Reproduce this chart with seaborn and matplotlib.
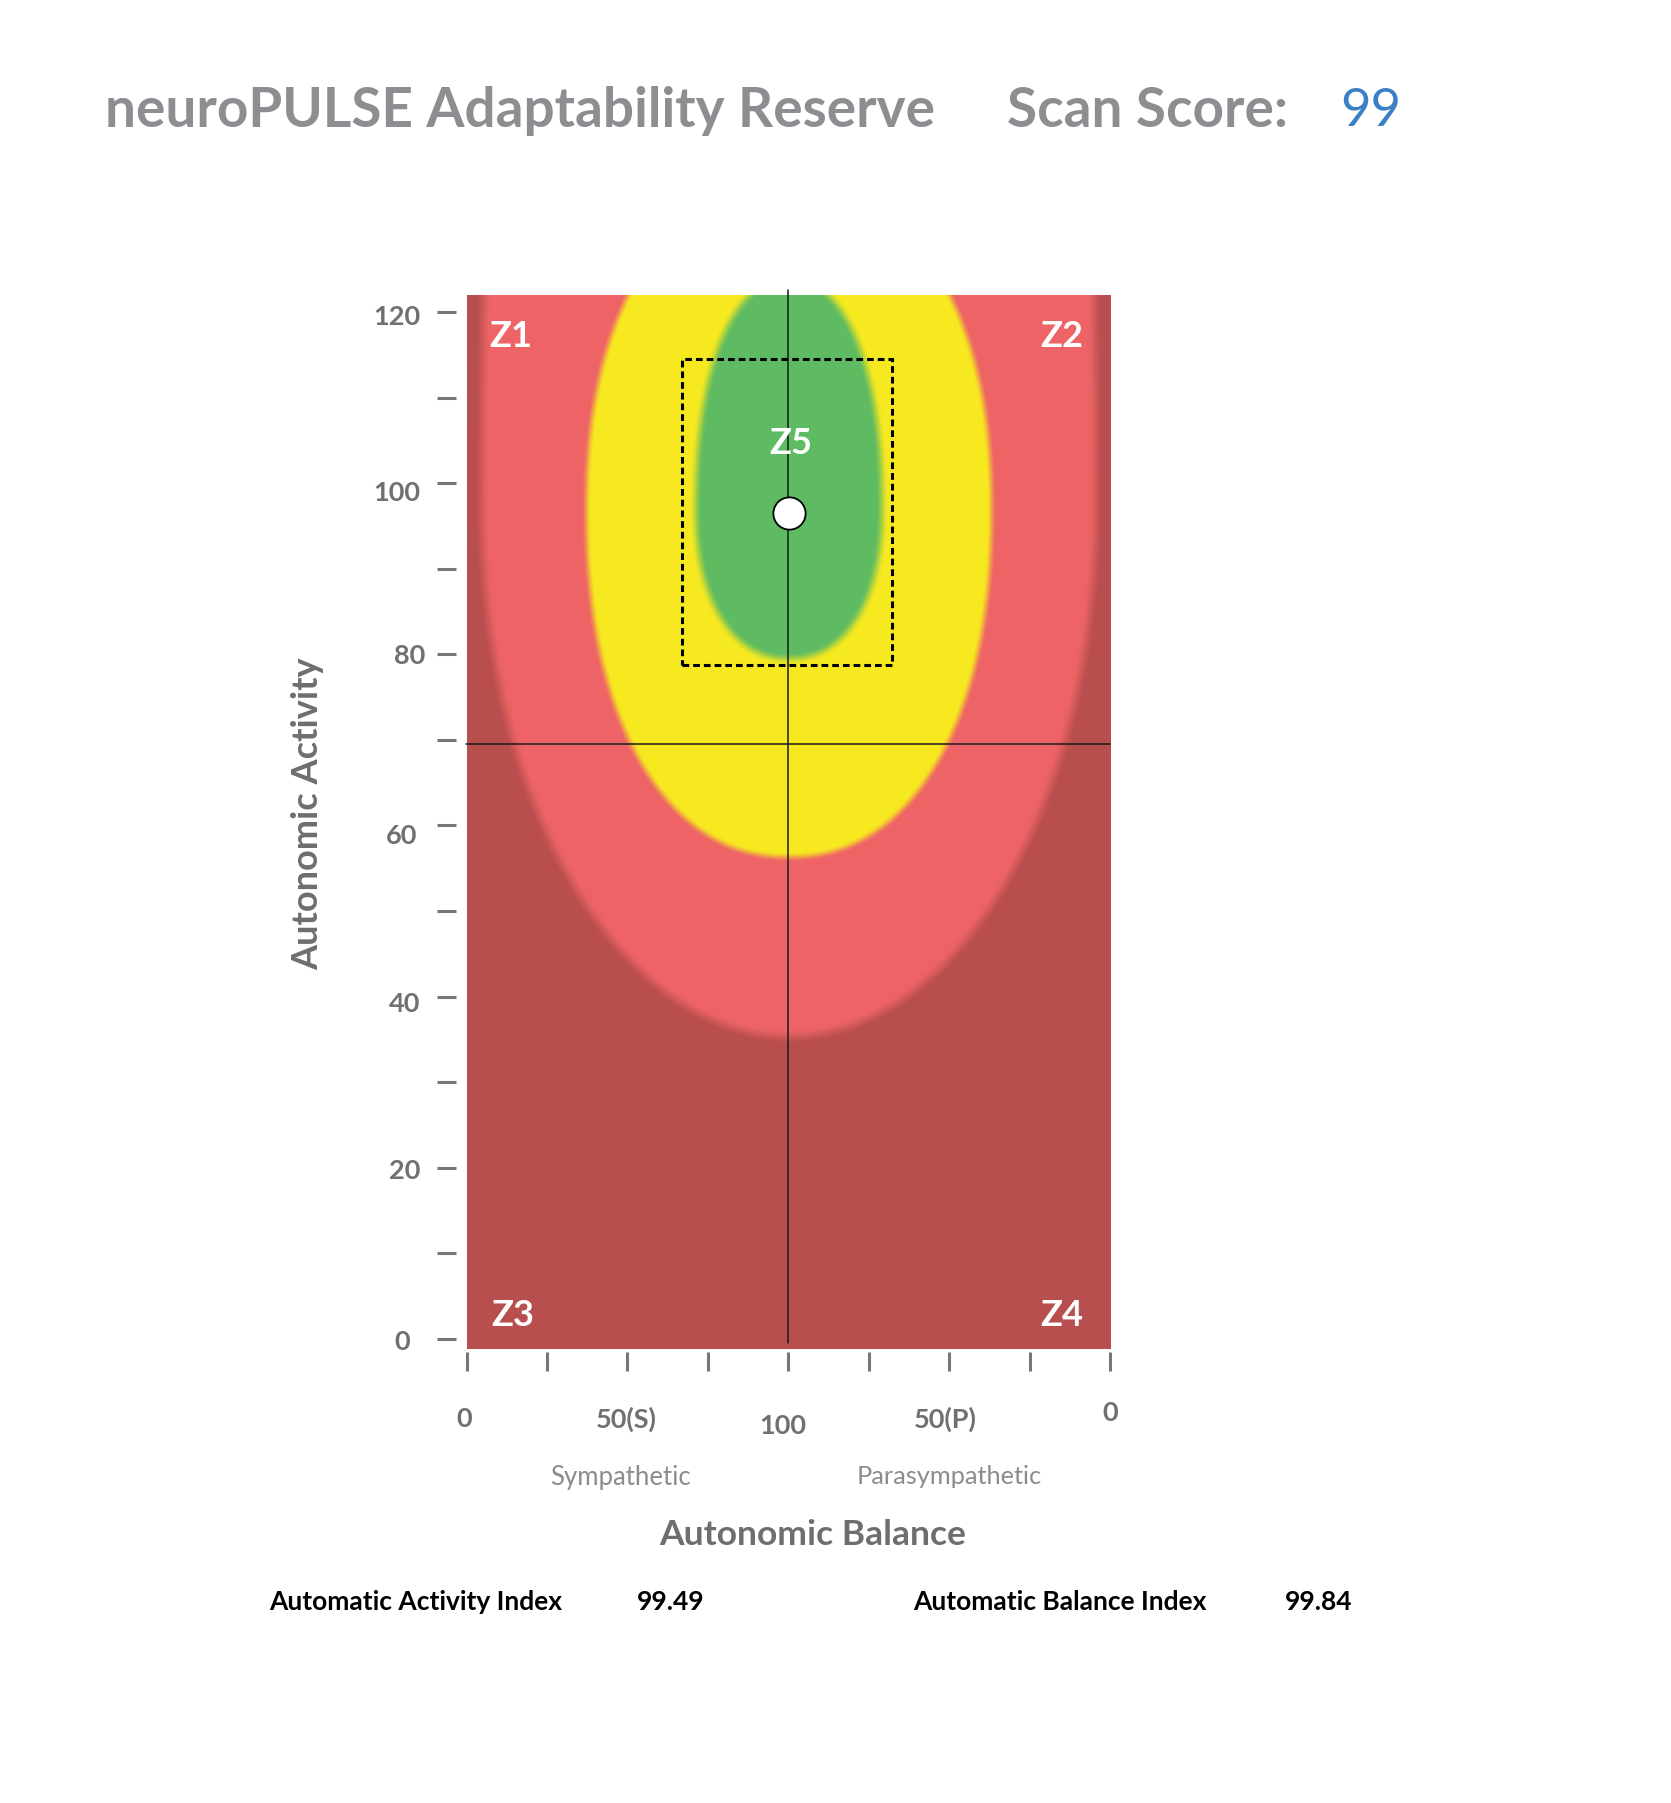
import numpy as np
import matplotlib
matplotlib.use("Agg")
import matplotlib.pyplot as plt
from matplotlib.colors import to_rgb
from matplotlib.patches import Rectangle
from matplotlib.transforms import ScaledTranslation, blended_transform_factory
import seaborn as sns

# --- zones of the background field (outermost first) ---
base_color = "#B84E4D"                      # dark red, outside every zone
zone_colors = ["#EE6466", "#F7E920", "#5EBB62"]
zone_center = (100, 97)
zone_half_width = [95.5, 63, 29]
zone_height_below = [61.7, 40.7, 17.5]
zone_height_above = [250, 38, 27]
zone_power = [2.0, 2.2, 2.2]
zone_blur_px = [16, 10, 13]

# zone labels
zone_names = ["Z1", "Z2", "Z3", "Z4", "Z5"]
zone_label_x = [13.8, 185.1, 14.4, 185.1, 100.7]
zone_label_y = [115.9, 115.9, 1.46, 1.46, 103.4]

# axes
y_major = [0, 20, 40, 60, 80, 100, 120]
y_minor = [10, 30, 50, 70, 90, 110]
x_major = [0, 50, 100, 150, 200]
x_major_labels = ["0", "50(S)", "100", "50(P)", "0"]
x_minor = [25, 75, 125, 175]

# crosshair, target box and scan point
balance_line = 100
activity_line = 69.5
box_balance = [67, 132.4]
box_activity = [78.7, 114.5]
dot_balance = [100.2]
dot_activity = [96.5]

scan_score = "99"
activity_index = "99.49"
balance_index = "99.84"

W, H, DPI = 1671, 1803, 100
sns.set_theme(style="white")
plt.rcParams["font.family"] = ["Lato", "DejaVu Sans"]

fig = plt.figure(figsize=(W / DPI, H / DPI), dpi=DPI)
ax = fig.add_axes([466.5 / W, 1 - 1349 / H, 643.5 / W, 1054 / H])
xlim, ylim = (0, 200), (-1.2, 122)

# background field
nx, ny = 644, 1054
X, Y = np.meshgrid(np.linspace(*xlim, nx), np.linspace(*ylim, ny))
rgb = np.ones((ny, nx, 3)) * np.array(to_rgb(base_color))
for color, a, bb, ba, p, blur in zip(zone_colors, zone_half_width, zone_height_below,
                                     zone_height_above, zone_power, zone_blur_px):
    dx = np.abs(X - zone_center[0]) / a
    dy = np.abs(Y - zone_center[1]) / np.where(Y < zone_center[1], bb, ba)
    r = (dx ** p + dy ** p) ** (1 / p)
    gy, gx = np.gradient(r)
    d = (r - 1) / (np.hypot(gx, gy) + 1e-9)
    alpha = np.clip(0.5 - d / blur, 0, 1)
    alpha = alpha * alpha * (3 - 2 * alpha)
    rgb = rgb * (1 - alpha[..., None]) + np.array(to_rgb(color)) * alpha[..., None]
ax.imshow(rgb, extent=(*xlim, *ylim), origin="lower", aspect="auto",
          interpolation="bilinear", zorder=0)
ax.set_xlim(*xlim)
ax.set_ylim(*ylim)

# crosshair
ax.plot([balance_line, balance_line], [-0.5, 122.6], color="#1a1a1a", lw=1.1,
        clip_on=False, zorder=3)
ax.plot([-0.3, 200], [activity_line, activity_line], color="#1a1a1a", lw=1.1,
        clip_on=False, zorder=3)

# target box
ax.add_patch(Rectangle((box_balance[0], box_activity[0]),
                       box_balance[1] - box_balance[0], box_activity[1] - box_activity[0],
                       fill=False, ec="black", lw=2.2, ls=(0, (2.2, 1.3)), zorder=4))

# scan point
sns.scatterplot(x=dot_balance, y=dot_activity, s=540, color="white", edgecolor="black",
                linewidth=1.3, ax=ax, zorder=5, legend=False)

for name, zx, zy in zip(zone_names, zone_label_x, zone_label_y):
    ax.text(zx, zy, name, color="white", fontsize=26, fontweight="bold",
            ha="center", va="baseline", zorder=6)

# spines and ticks
for s in ax.spines.values():
    s.set_visible(False)
ax.spines["left"].set_position(("outward", 7.6))
ax.spines["bottom"].set_position(("outward", 2.2))
tick_color = "#777777"
ax.set_yticks(y_major)
ax.set_yticks(y_minor, minor=True)
ax.set_xticks(x_major, x_major_labels)
ax.set_xticks(x_minor, minor=True)
ax.tick_params(axis="y", which="both", direction="out", length=13.8, width=2.2,
               color=tick_color, pad=12, labelsize=19.5, labelcolor="#707070", left=True)
ax.tick_params(axis="x", which="both", direction="out", length=13.5, width=2.2,
               color=tick_color, pad=40.8, labelsize=19.5, labelcolor="#707070", bottom=True)

# small hand-placed shifts of the tick labels (px: right, down)
ylab_shift = [(-10, 11), (0, 11.3), (0, 15), (-3.3, 19), (5, 9.3), (0, 17.3), (0, 13.3)]
for lab, (sx, sy) in zip(ax.get_yticklabels(), ylab_shift):
    lab.set_fontweight("bold")
    lab.set_va("baseline")
    lab.set_transform(lab.get_transform() + ScaledTranslation(sx / DPI, -sy / DPI, fig.dpi_scale_trans))
xlab_shift = [(-2.5, 0), (-1, 0), (-5, 6.7), (-4, 0), (0, -6.6)]
for lab, (sx, sy) in zip(ax.get_xticklabels(), xlab_shift):
    lab.set_fontweight("bold")
    lab.set_va("baseline")
    lab.set_transform(lab.get_transform() + ScaledTranslation(sx / DPI, -sy / DPI, fig.dpi_scale_trans))

# axis titles
ax.set_ylabel("Autonomic Activity", fontsize=26, fontweight="bold", color="#6E6E6E",
              va="baseline", ha="center")
ax.yaxis.set_label_coords((318 - 466.5) / 643.5, (1349 - 814) / 1054)
ax.set_xlabel("Autonomic Balance", fontsize=25.5, fontweight="bold", color="#6E6E6E",
              va="baseline", ha="center")
ax.xaxis.set_label_coords((812.5 - 466.5) / 643.5, (1349 - 1545) / 1054)

side = blended_transform_factory(ax.transData, ax.transAxes)
ax.text(48, (1349 - 1484.5) / 1054, "Sympathetic", transform=side, ha="center",
        va="baseline", fontsize=18.5, color="#8C8C8C")
ax.text(150, (1349 - 1484.5) / 1054, "Parasympathetic", transform=side, ha="center",
        va="baseline", fontsize=18.3, color="#8C8C8C")

# header
title_kw = dict(fontsize=39.5, fontweight="bold", color="#8E8E92", va="baseline")
fig.text(105 / W, 1 - 127 / H, "neuroPULSE Adaptability Reserve", **title_kw)
fig.text(1007 / W, 1 - 127 / H, "Scan Score:", **title_kw)
fig.text(1340 / W, 1 - 126 / H, scan_score, fontsize=38, color="#3B80C6", va="baseline")

# footer indices
foot_kw = dict(fontsize=19, fontweight="bold", color="black", va="baseline")
fig.text(269 / W, 1 - 1610 / H, "Automatic Activity Index", **foot_kw)
fig.text(637 / W, 1 - 1610 / H, activity_index, **foot_kw)
fig.text(913 / W, 1 - 1610 / H, "Automatic Balance Index", **foot_kw)
fig.text(1285 / W, 1 - 1610 / H, balance_index, **foot_kw)

fig.savefig("out.png", dpi=DPI, facecolor="white")
